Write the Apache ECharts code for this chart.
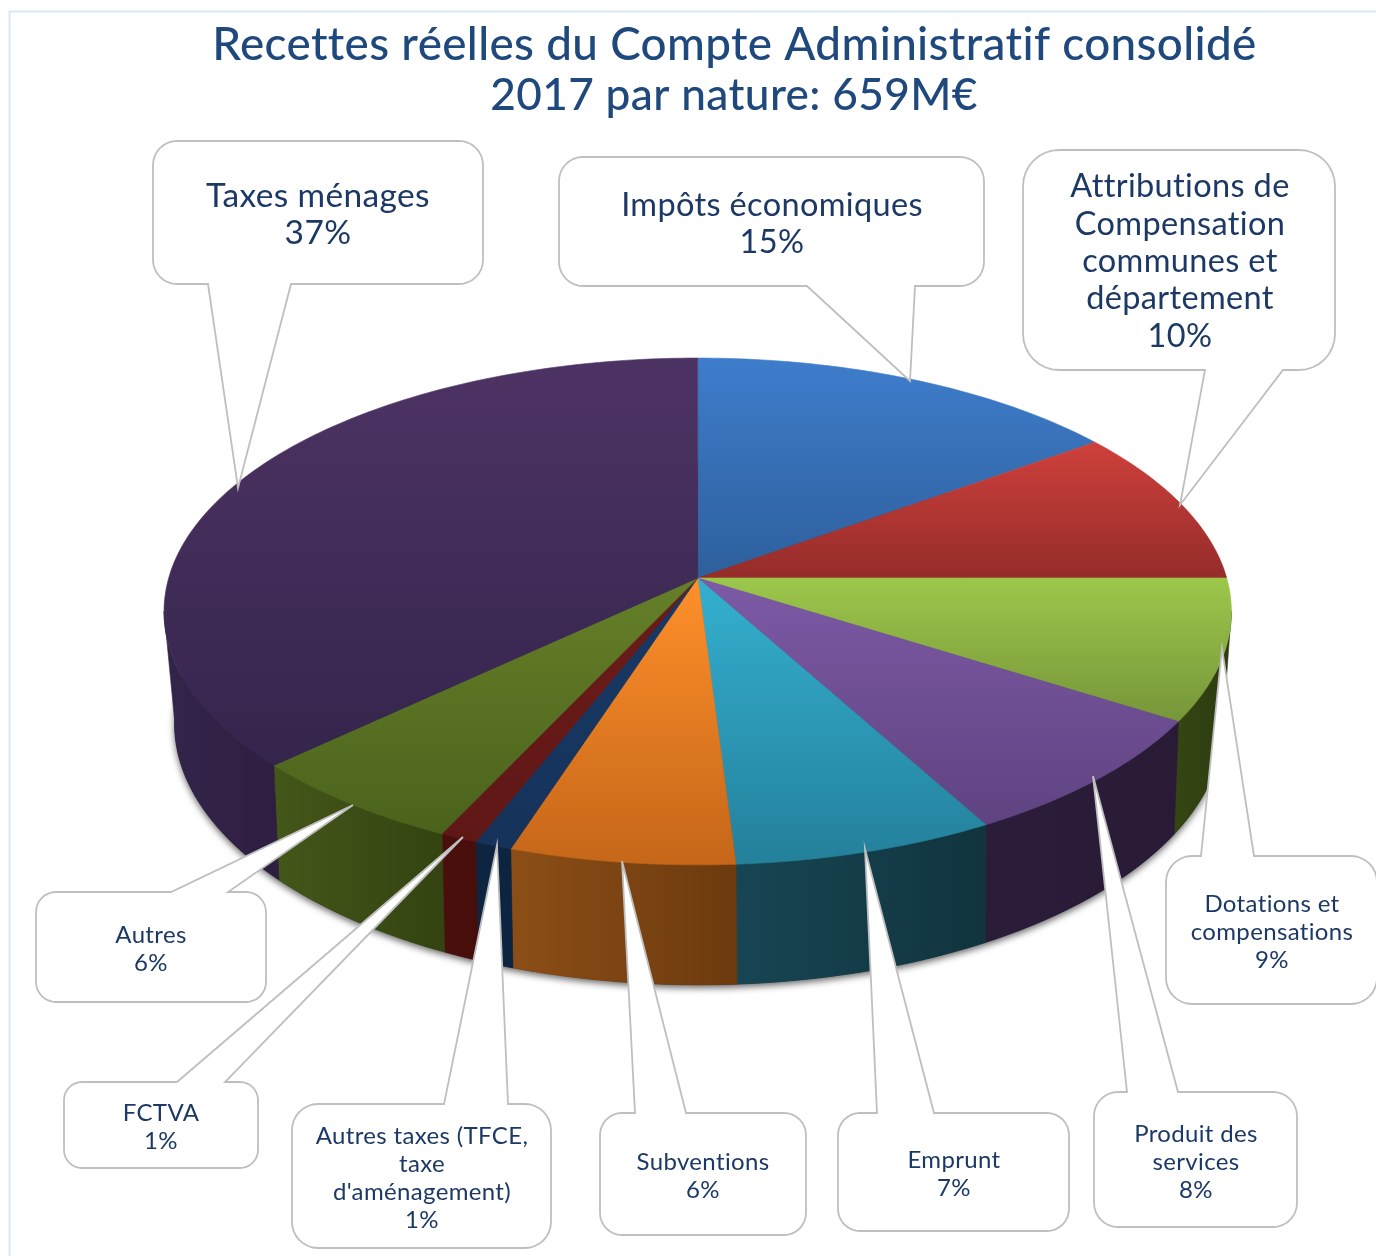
<!DOCTYPE html>
<html lang="fr">
<head>
<meta charset="utf-8">
<title>Recettes réelles</title>
<style>html,body{margin:0;padding:0;background:#fff}#c{width:1376px;height:1256px}</style>
<script src="https://cdn.jsdelivr.net/npm/echarts@6/dist/echarts.min.js"></script>
</head>
<body>
<div id="c"></div>
<script>
const titleLine1 = "Recettes réelles du Compte Administratif consolidé";
const titleLine2 = "2017 par nature: 659M€";
const categories = ["Impôts économiques","Attributions de\nCompensation\ncommunes et\ndépartement","Dotations et\ncompensations","Produit des\nservices","Emprunt","Subventions","Autres taxes (TFCE,\ntaxe\nd'aménagement)","FCTVA","Autres","Taxes ménages"];
const shares = [15,10,9,8,7,6,1,1,6,37];

const topLight = ["#3e7dcc","#cf403b","#9dc74b","#7e5aa6","#34b0d0","#ff902b","#183a66","#6c1c19","#658028","#4d3364"];
const topDark  = ["#2e5f9c","#942c2a","#769539","#5f4380","#24809b","#c56619","#15325a","#5f1716","#4b621c","#34254c"];
const wallLeft = ["#1c3c60","#5c1c1a","#354613","#2b1d3a","#174553","#8c4e16","#0e2542","#4a0f0c","#445719","#33244a"];
const wallRight= ["#1c3c60","#5c1c1a","#2d3b11","#291b35","#11343e","#6c3a0f","#0d2440","#460e0b","#334311","#2e1f41"];

// Wider tracking and no ligatures, closer to the reference typeface
const nativeFillText = CanvasRenderingContext2D.prototype.fillText;
CanvasRenderingContext2D.prototype.fillText = function(){
  this.letterSpacing = '0.35px';
  return nativeFillText.apply(this, arguments);
};

// Perspective projection of the pie disc (top face, then bottom face)
const TOP = {cx:697.7, cy:578, a:529, b:249, k:0.132};
const BOT = {cx:699, cy:685.5, a:519, b:256, k:0.145};
function project(p, frac){
  const t = frac*2*Math.PI, u = Math.sin(t), v = -Math.cos(t), w = 1-p.k*v;
  return [p.cx+p.a*u/w, p.cy+p.b*v/w];
}
function arc(p, f0, f1){
  const n = Math.max(2, Math.ceil((f1-f0)*360)), pts = [];
  for(let i=0;i<=n;i++) pts.push(project(p, f0+(f1-f0)*i/n));
  return pts;
}
const total = shares.reduce((s,x)=>s+x,0);
function startOf(i){ let s=0; for(let j=0;j<i;j++) s+=shares[j]; return s/total; }
const vgrad=(a,b)=>new echarts.graphic.LinearGradient(0,0,0,1,[{offset:0,color:a},{offset:1,color:b}]);
const hgrad=(a,b)=>new echarts.graphic.LinearGradient(0,0,1,0,[{offset:0,color:a},{offset:1,color:b}]);

function renderTop(params, api){
  const i = params.dataIndex, f0 = startOf(i), f1 = f0+api.value(0)/total;
  const g = vgrad(topLight[i], topDark[i]);
  return {type:'polygon', shape:{points:[[TOP.cx,TOP.cy]].concat(arc(TOP,f0,f1))},
    style:{fill:g, stroke:g, lineWidth:0.6}, silent:true};
}
function renderWall(params, api){
  const i = params.dataIndex;
  let f0 = startOf(i), f1 = f0+api.value(0)/total;
  // visible wall stops at the silhouette tangents of the disc
  f0 = Math.max(f0,0.271); f1 = Math.min(f1,0.729);
  if(f1<=f0) return null;
  const g = hgrad(wallLeft[i], wallRight[i]);
  const pts = arc(TOP,f0,f1).concat(arc(BOT,f0,f1).reverse());
  return {type:'polygon', shape:{points:pts}, style:{fill:g, stroke:g, lineWidth:0.6}, silent:true};
}
function renderBase(){
  return {type:'polygon', shape:{points:arc(BOT,0,1)},
    style:{fill:'#2a1c38', shadowBlur:7, shadowOffsetY:3, shadowColor:'rgba(0,0,0,0.6)'}, silent:true};
}

// Callout boxes: box [x0,y0,x1,y1], radius, wedge base x0,x1, tip, text centre, font size, line height
const calloutLayout = [
 {box:[559,157,984,286], r:24, base:[807,915], tip:[910,381], text:[772,224], fs:32.5, lh:37},
 {box:[1023,150,1335,370], r:36, base:[1205,1283], tip:[1180,505], text:[1180,261.5], fs:32.5, lh:37.3},
 {box:[1166,856,1377,1004], r:26, base:[1201,1254], tip:[1222,648], text:[1272,932], fs:24, lh:28},
 {box:[1094,1092,1297,1227], r:24, base:[1127,1178], tip:[1093,776], text:[1196,1162], fs:24, lh:28},
 {box:[838,1113,1069,1231], r:22, base:[877,934], tip:[865,849], text:[954,1174], fs:24, lh:28},
 {box:[600,1113,806,1235], r:22, base:[635,686], tip:[622,861], text:[703,1176], fs:24, lh:28},
 {box:[292,1104,551,1248], r:26, base:[444,508], tip:[497,845], text:[422,1178], fs:24, lh:28},
 {box:[64,1082,258,1168], r:18, base:[177,225], tip:[463,837], text:[161,1127], fs:24, lh:28},
 {box:[36,892,266,1002], r:20, base:[171,228], tip:[353,805], text:[151,949], fs:24, lh:28},
 {box:[153,141,483,284], r:24, base:[208,291], tip:[238,488], text:[318,215], fs:33.5, lh:37}
];
function corner(cx,cy,r,a0){
  const pts=[];
  for(let i=0;i<=8;i++){const a=a0+i/8*Math.PI/2; pts.push([cx+r*Math.cos(a),cy+r*Math.sin(a)]);}
  return pts;
}
function bubble(c){
  const [x0,y0,x1,y1]=c.box, r=c.r, top=c.tip[1]<y0;
  let p=[];
  p=p.concat(corner(x0+r,y0+r,r,Math.PI));
  if(top) p.push([c.base[0],y0],c.tip,[c.base[1],y0]);
  p=p.concat(corner(x1-r,y0+r,r,-Math.PI/2));
  p=p.concat(corner(x1-r,y1-r,r,0));
  if(!top) p.push([c.base[1],y1],c.tip,[c.base[0],y1]);
  p=p.concat(corner(x0+r,y1-r,r,Math.PI/2));
  return p;
}
const FONT = "Lato, 'Open Sans', sans-serif";
function renderCallout(params, api){
  const i = params.dataIndex, c = calloutLayout[i];
  return {type:'group', children:[
    {type:'polygon', shape:{points:bubble(c)}, style:{fill:'#fff', stroke:'#bfbfbf', lineWidth:1.8}, silent:true},
    {type:'text', style:{text:categories[i]+"\n"+api.value(0)+"%", x:c.text[0], y:c.text[1], align:'center', verticalAlign:'middle',
      fontFamily:FONT, fontSize:c.fs, lineHeight:c.lh, fill:'#1c3966'}, silent:true}
  ]};
}
const rows = shares.map(v=>[v]);
const chart = echarts.init(document.getElementById('c'), null, {renderer:'canvas', width:1376, height:1256});
chart.setOption({
  animation:false,
  backgroundColor:'#fff',
  title:[
    {text:titleLine1, left:734.5, top:22, textAlign:'center', padding:0,
      textStyle:{fontFamily:FONT, fontSize:45.8, fontWeight:500, color:'#1f497d'}},
    {text:titleLine2, left:734, top:74, textAlign:'center', padding:0,
      textStyle:{fontFamily:FONT, fontSize:44.2, fontWeight:500, color:'#1f497d'}}
  ],
  graphic:[{type:'rect', silent:true, shape:{x:9.5,y:11.5,width:1500,height:1500},
    style:{fill:'none', stroke:'#dbe7f6', lineWidth:2}}],
  series:[
    {type:'custom', coordinateSystem:'none', renderItem:renderBase, data:[[1]], z:1, clip:false},
    {type:'custom', coordinateSystem:'none', renderItem:renderWall, data:rows, z:2},
    {type:'custom', coordinateSystem:'none', renderItem:renderTop, data:rows, z:3},
    {type:'custom', coordinateSystem:'none', renderItem:renderCallout, data:rows, z:4}
  ]
});
</script>
</body>
</html>
